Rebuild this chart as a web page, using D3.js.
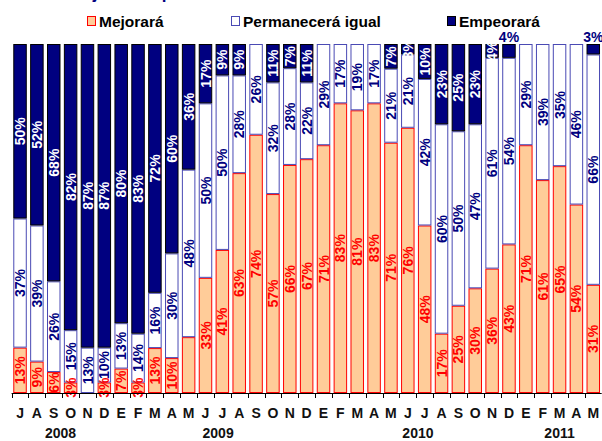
<!DOCTYPE html>
<meta charset="utf-8">
<style>
  body { margin: 0; background: #fff; }
  text { font-family: "Liberation Sans", Arial, sans-serif; font-weight: bold; }
</style>
<svg width="602" height="441" id="chart"></svg>
<script src="https://d3js.org/d3.v7.min.js"></script>
<script>

// months Jul 2008 .. May 2011
var months = ["J","A","S","O","N","D","E","F","M","A","M",
              "J","J","A","S","O","N","D","E","F","M","A","M",
              "J","J","A","S","O","N","D","E","F","M","A","M"]

var mejorara    = [13,9,6,3,0,3,7,3,13,10,16,33,41,63,74,57,66,67,71,83,81,83,71,76,48,17,25,30,36,43,71,61,65,54,31]
var permanecera = [37,39,26,15,13,10,13,14,16,30,48,50,50,28,26,32,28,22,29,17,19,17,21,21,42,60,50,47,61,54,29,39,35,46,66]
var empeorara   = [50,52,68,82,87,87,80,83,72,60,36,17,9,9,0,11,7,11,0,0,0,0,7,3,10,23,25,23,4,4,0,0,0,0,3]

var seriesNames = ["Mejorará","Permanecerá igual","Empeorará"]

// year labels, placed at a (fractional) month index
var years   = ["2008","2009","2010","2011"]
var yearPos = [2.4, 11.75, 23.6, 32]

// label exceptions
var hiddenMej = [10]
var empAbove = [29, 34]

var title = "Porcentaje de respuestas"

var fills   = ["#ffcc99", "#ffffff", "#000080"]
var strokes = ["#ff0000", "#4a4ab4", "#000000"]
var labelCol = ["#ff0000", "#000080", "#ffffff"]

var svg = d3.select("#chart")

var plotTop = 44, plotBottom = 393

var x = d3.scaleBand()
  .domain(d3.range(months.length))
  .range([11.6, 601.7])
  .paddingInner(0.2)
  .paddingOuter(0.1)

var y = d3.scaleLinear().domain([0, 1]).range([plotBottom, plotTop])

var step = x.step()
function xc(i) { return x.range()[0] + step * (i + 0.5) }

// stacked data (normalised to 100%)
var rows = months.map(function(m, i) {
  var tot = mejorara[i] + permanecera[i] + empeorara[i]
  return { i: i, vals: [mejorara[i], permanecera[i], empeorara[i]], tot: tot }
})

var segs = []
rows.forEach(function(r) {
  var acc = 0
  r.vals.forEach(function(v, k) {
    segs.push({ i: r.i, k: k, v: v, y0: acc / r.tot, y1: (acc + v) / r.tot })
    acc += v
  })
})

// title, mostly off the top of the picture
svg.append("text")
  .attr("x", 20).attr("y", -1)
  .attr("font-size", "17px")
  .attr("fill", "#000080")
  .text(title)

svg.append("clipPath").attr("id", "plotclip")
  .append("rect").attr("x", 0).attr("y", plotTop).attr("width", 602).attr("height", 441 - plotTop)

svg.append("g").selectAll("rect")
  .data(segs.filter(function(d) { return d.v > 0 }))
  .enter().append("rect")
  .attr("x", function(d) { return x(d.i) + 0.5 })
  .attr("width", x.bandwidth() - 1)
  .attr("y", function(d) { return y(d.y1) + 0.5 })
  .attr("height", function(d) { return Math.max(0, y(d.y0) - y(d.y1) - 1) })
  .attr("fill", function(d) { return fills[d.k] })
  .attr("stroke", function(d) { return strokes[d.k] })
  .attr("stroke-width", 1)

// value labels inside bars, rotated
var lab = segs.filter(function(d) {
  if (d.v <= 0) return false
  if (d.k == 0 && hiddenMej.indexOf(d.i) >= 0) return false
  if (d.k == 2 && empAbove.indexOf(d.i) >= 0) return false
  return true
})

svg.append("g").attr("clip-path", "url(#plotclip)")
  .selectAll("text").data(lab).enter().append("text")
  .attr("transform", function(d) {
    return "translate(" + xc(d.i) + "," + y((d.y0 + d.y1) / 2) + ") rotate(-90)"
  })
  .attr("text-anchor", "middle")
  .attr("dy", "0.36em")
  .attr("font-size", "14px")
  .attr("fill", function(d) { return labelCol[d.k] })
  .text(function(d) { return d.v + "%" })

// small "empeorará" labels above bars
svg.append("g").selectAll("text").data(empAbove).enter().append("text")
  .attr("x", function(i) { return xc(i) })
  .attr("y", plotTop - 2)
  .attr("text-anchor", "middle")
  .attr("font-size", "14px")
  .attr("fill", "#000080")
  .text(function(i) { return empeorara[i] + "%" })

// axis line with ticks between categories
var ax = svg.append("g")
ax.append("line")
  .attr("x1", x.range()[0]).attr("x2", x.range()[1])
  .attr("y1", plotBottom + 0.5).attr("y2", plotBottom + 0.5)
  .attr("stroke", "#000")
ax.selectAll(".tk").data(d3.range(months.length + 1)).enter().append("line")
  .attr("x1", function(i) { return Math.round(x.range()[0] + i * step) + 0.5 })
  .attr("x2", function(i) { return Math.round(x.range()[0] + i * step) + 0.5 })
  .attr("y1", plotBottom).attr("y2", plotBottom + 5)
  .attr("stroke", "#000")

ax.selectAll(".mo").data(months).enter().append("text")
  .attr("x", function(d, i) { return xc(i) })
  .attr("y", 418)
  .attr("text-anchor", "middle")
  .attr("font-size", "14px")
  .attr("fill", "#111")
  .text(function(d) { return d })

ax.selectAll(".yr").data(years).enter().append("text")
  .attr("x", function(d, i) { return xc(yearPos[i]) })
  .attr("y", 438)
  .attr("text-anchor", "middle")
  .attr("font-size", "14px")
  .attr("fill", "#111")
  .text(function(d) { return d })

// legend
var legX = [87, 231, 447]
var leg = svg.append("g").selectAll("g").data(seriesNames).enter().append("g")
  .attr("transform", function(d, i) { return "translate(" + legX[i] + ",16)" })
leg.append("rect")
  .attr("x", 0.5).attr("y", 0.5).attr("width", 8).attr("height", 9)
  .attr("fill", function(d, i) { return fills[i] })
  .attr("stroke", function(d, i) { return strokes[i] })
leg.append("text")
  .attr("x", 12).attr("y", 10.5)
  .attr("font-size", "15.5px")
  .attr("fill", "#000")
  .text(function(d) { return d })

</script>
